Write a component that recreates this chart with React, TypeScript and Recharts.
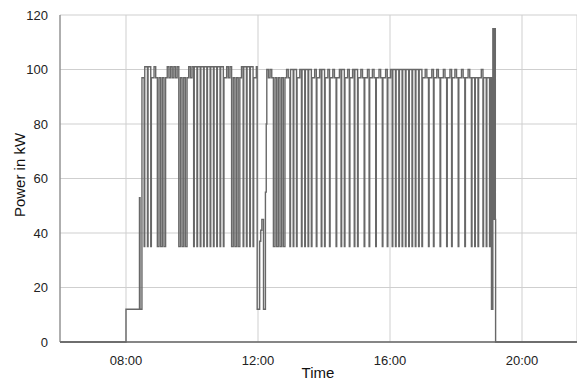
import { LineChart, Line, XAxis, YAxis, CartesianGrid } from 'recharts';

// lead-in: off, then standby at 12 kW, short spike before start-up
const LEAD_T = [360, 480, 480, 504, 504.5, 505.5, 508.5, 509];
const LEAD_V = [0, 0, 12, 12, 53, 12, 12, 97];

// morning run, one reading every 3 minutes from 08:30
const MORNING_START = 510;
const STEP = 3;
const MORNING = [
  97, 35, 101, 35, 101, 35, 97, 101, 97, 35,
  97, 35, 97, 35, 97, 101, 97, 101, 97, 101,
  97, 101, 35, 97, 35, 97, 35, 97, 101, 97,
  101, 35, 101, 35, 101, 35, 101, 35, 101, 35,
  101, 35, 101, 35, 101, 35, 101, 35, 101, 35,
  97, 101, 97, 101, 35, 97, 35, 97, 35, 97,
  101, 35, 101, 35, 101, 35, 101, 35, 97, 101,
];

// midday break around 12:00
const NOON_T = [718.5, 722.5, 723, 725, 727, 730, 733, 733.5, 735];
const NOON_V = [12, 12, 37, 41, 45, 12, 12, 55, 80];

// afternoon run, from 12:16
const AFTERNOON_START = 736;
const AFTERNOON = [
  100, 97, 100, 97, 35, 97, 35, 97, 35, 97,
  35, 97, 100, 97, 35, 100, 35, 100, 35, 97,
  100, 35, 100, 35, 100, 35, 100, 35, 97, 100,
  35, 97, 100, 35, 100, 35, 97, 100, 35, 97,
  100, 97, 35, 97, 100, 35, 100, 35, 97, 100,
  35, 97, 100, 35, 100, 35, 97, 100, 97, 35,
  97, 100, 35, 97, 100, 97, 35, 97, 100, 97,
  35, 97, 100, 35, 97, 100, 35, 100, 35, 100,
  35, 100, 35, 100, 35, 100, 35, 100, 35, 100,
  35, 100, 35, 100, 35, 97, 100, 97, 35, 97,
  100, 35, 97, 100, 97, 35, 97, 100, 97, 35,
  97, 100, 35, 97, 100, 97, 35, 97, 100, 97,
  35, 97, 100, 97, 35, 97, 35, 97, 35, 97,
  100, 35, 97, 35, 97, 35,
];

// shutdown near 19:10
const TAIL_T = [1143, 1144.5, 1146.5, 1147, 1148, 1149, 1150, 1151, 1151.5, 1152, 1300];
const TAIL_V = [97, 12, 12, 115, 45, 115, 45, 115, 45, 0, 0];

// stretches (minutes) where the load cycles so fast that the trace is solid
const DENSE = [
  [537, 551],
  [576, 590],
  [672, 686],
  [748, 766],
];
// an ordinary drop to 35 kW lasts about a minute
const DIP_LEN = 1.1;

const X_TICKS = [480, 720, 960, 1200];
const Y_TICKS = [0, 20, 40, 60, 80, 100, 120];

const data: { t: number; v: number }[] = [];
const pushRun = (start: number, values: number[]) => {
  values.forEach((v, i) => {
    const t = start + i * STEP;
    data.push({ t, v });
    const dense = DENSE.some(([a, b]) => t >= a && t <= b);
    if (v < 50 && !dense && i + 1 < values.length) {
      data.push({ t: t + DIP_LEN, v: values[i + 1] });
    }
  });
};
LEAD_T.forEach((t, i) => data.push({ t, v: LEAD_V[i] }));
pushRun(MORNING_START, MORNING);
NOON_T.forEach((t, i) => data.push({ t, v: NOON_V[i] }));
pushRun(AFTERNOON_START, AFTERNOON);
TAIL_T.forEach((t, i) => data.push({ t, v: TAIL_V[i] }));

const fmtTime = (m: number) => {
  const h = Math.floor(m / 60);
  const mm = Math.round(m % 60);
  return `${String(h).padStart(2, '0')}:${String(mm).padStart(2, '0')}`;
};

const FONT = '"Liberation Sans", Arial, sans-serif';

export default function App() {
  return (
    <div style={{ position: 'absolute', left: 0, top: 0, width: 577, height: 379, fontFamily: FONT }}>
      <LineChart width={577} height={379} data={data} margin={{ top: 15, right: 0, bottom: 0, left: 0 }}>
        <CartesianGrid stroke="#cfcfcf" strokeWidth={1} />
        <XAxis
          dataKey="t"
          type="number"
          domain={[360, 1300]}
          ticks={X_TICKS}
          tickFormatter={fmtTime}
          height={37}
          tickLine={false}
          tickMargin={8}
          stroke="#666"
          strokeWidth={1.5}
          tick={{ fill: '#222', fontSize: 13, fontFamily: FONT }}
          allowDataOverflow
        />
        <YAxis
          type="number"
          domain={[0, 120]}
          ticks={Y_TICKS}
          width={60}
          tickLine={false}
          tickMargin={6}
          stroke="#777"
          tick={{ fill: '#222', fontSize: 13, fontFamily: FONT }}
        />
        <Line
          type="stepAfter"
          dataKey="v"
          stroke="#686868"
          strokeWidth={1.4}
          dot={false}
          isAnimationActive={false}
        />
      </LineChart>
      <div
        style={{
          position: 'absolute',
          left: 19,
          top: 175,
          transform: 'translate(-50%, -50%) rotate(-90deg)',
          whiteSpace: 'nowrap',
          fontSize: 15,
          lineHeight: 1,
          color: '#111',
        }}
      >
        Power in kW
      </div>
      <div
        style={{
          position: 'absolute',
          left: 318,
          top: 372,
          transform: 'translate(-50%, -50%)',
          whiteSpace: 'nowrap',
          fontSize: 15,
          lineHeight: 1,
          color: '#111',
        }}
      >
        Time
      </div>
    </div>
  );
}
